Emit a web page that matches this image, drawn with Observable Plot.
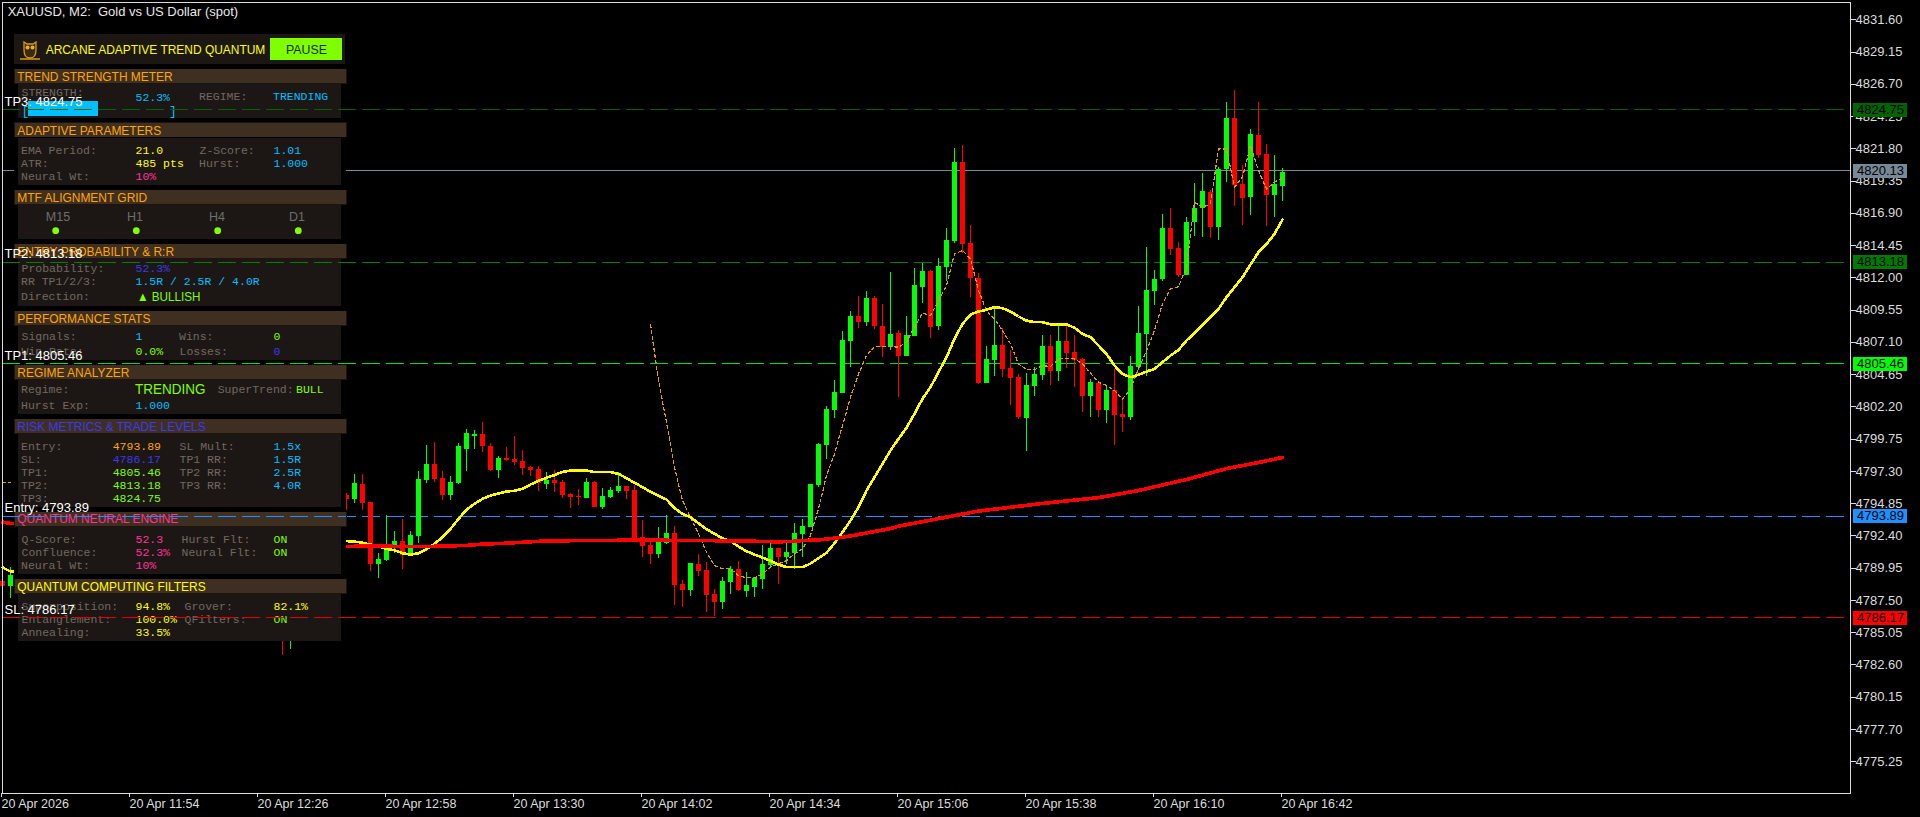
<!DOCTYPE html>
<html>
<head>
<meta charset="utf-8">
<script src="https://cdn.jsdelivr.net/npm/d3@7"></script>
<script src="https://cdn.jsdelivr.net/npm/@observablehq/plot@0.6"></script>
<style>html,body{margin:0;padding:0;background:#000;overflow:hidden}svg{display:block}</style>
</head>
<body>
<div id="chart"></div>
<script>
// ---- candles (bar number = 2-minute bars since 11:22) ----
const barIndex = [0,1,35,36,43].concat(d3.range(44,161));
const opens = [4788.93,4788.55,4787.5,4786.0,4795.46,
4795.16,4796.30,4794.93,4790.22,4790.53,4791.59,4791.97,4790.91,4792.35,4796.60,
4797.82,4796.76,4795.46,4796.38,4798.96,4799.95,4800.10,4799.19,4797.36,4798.27,
4798.20,4798.05,4797.57,4797.44,4796.30,4796.60,4796.45,4795.54,4795.39,4795.24,
4796.45,4794.55,4795.31,4795.77,4796.15,4795.84,4792.27,4791.67,4790.98,4791.82,
4792.58,4788.70,4788.25,4790.22,4789.77,4787.95,4787.34,4788.86,4789.84,4788.17,
4788.47,4789.08,4790.14,4791.43,4790.75,4791.05,4792.50,4793.03,4796.22,4799.26,
4801.92,4803.21,4807.16,4809.06,4808.60,4810.43,4808.30,4806.70,4807.77,4806.02,
4807.54,4811.26,4812.48,4808.30,4812.78,4814.76,4820.75,4814.60,4811.94,4803.97,
4805.72,4806.86,4805.11,4804.43,4801.31,4803.74,4804.58,4806.78,4804.88,4807.16,
4806.33,4805.79,4802.98,4803.97,4801.92,4803.44,4801.61,4801.38,4805.18,4807.69,
4810.95,4811.87,4815.74,4814.22,4812.17,4816.19,4817.26,4818.47,4815.82,4820.22,
4824.09,4819.08,4818.09,4822.80,4821.36,4818.25,4818.93];
const closes = [4788.55,4789.39,4786.0,4787.0,4795.16,
4796.35,4794.86,4790.25,4790.60,4791.54,4791.97,4790.91,4792.43,4796.68,4797.82,
4796.68,4795.46,4796.45,4799.19,4800.17,4800.10,4799.19,4797.36,4798.27,4798.12,
4797.97,4797.52,4797.36,4796.35,4796.60,4796.38,4795.46,4795.31,4795.29,4796.45,
4794.55,4795.39,4795.84,4796.15,4795.77,4792.17,4791.59,4790.98,4791.89,4792.58,
4788.63,4788.25,4790.30,4789.69,4787.87,4787.34,4788.93,4789.84,4788.24,4788.62,
4789.16,4790.22,4791.43,4790.75,4791.13,4792.57,4793.10,4796.29,4799.33,4801.99,
4803.28,4807.23,4809.05,4808.60,4810.43,4808.30,4806.70,4807.69,4806.02,4807.61,
4811.41,4812.48,4808.22,4812.86,4814.83,4820.75,4814.53,4811.94,4803.97,4805.79,
4806.86,4805.03,4804.35,4801.39,4803.82,4804.65,4806.78,4804.88,4807.16,4806.25,
4805.72,4802.98,4804.05,4801.92,4803.44,4801.54,4801.38,4805.26,4807.76,4811.03,
4811.87,4815.74,4814.14,4812.17,4816.19,4817.26,4818.55,4815.82,4820.22,4824.09,
4819.01,4818.02,4822.88,4821.28,4818.25,4819.08,4819.99];
const highs = [4788.93,4790.00,4788.0,4787.5,4795.59,
4797.06,4797.06,4794.93,4791.03,4793.92,4792.73,4793.62,4792.73,4797.29,4799.26,
4799.49,4797.29,4796.91,4799.41,4800.48,4800.40,4801.01,4799.41,4798.43,4799.11,
4799.95,4798.88,4797.67,4797.67,4797.21,4797.36,4796.60,4795.59,4795.92,4796.76,
4796.53,4796.00,4796.07,4797.21,4796.15,4796.22,4793.57,4792.05,4793.03,4793.92,
4793.11,4789.01,4790.30,4790.98,4790.38,4788.33,4789.24,4790.07,4790.45,4789.61,
4789.26,4791.64,4791.89,4791.43,4791.89,4793.31,4793.64,4796.29,4799.41,4802.22,
4804.19,4807.92,4809.43,4810.58,4810.96,4810.58,4809.97,4812.40,4808.00,4809.06,
4812.70,4813.08,4812.55,4813.46,4815.74,4821.82,4822.05,4815.97,4812.30,4806.78,
4809.59,4808.15,4806.47,4804.65,4804.73,4805.19,4807.61,4807.61,4808.30,4808.37,
4807.61,4805.87,4804.28,4804.15,4803.82,4805.03,4802.83,4806.02,4809.82,4814.30,
4812.55,4816.80,4817.26,4814.68,4816.57,4819.16,4819.92,4818.63,4820.35,4825.31,
4826.22,4820.52,4823.26,4825.31,4822.12,4821.28,4820.30];
const lows = [4788.55,4787.64,4783.31,4783.77,4794.33,
4794.83,4794.33,4789.69,4789.19,4790.48,4791.08,4789.84,4790.83,4791.79,4796.38,
4796.45,4795.08,4795.08,4796.30,4797.29,4798.96,4798.73,4797.29,4796.76,4798.05,
4797.74,4796.98,4796.91,4795.77,4795.92,4795.69,4795.21,4794.48,4794.71,4795.24,
4794.55,4794.40,4795.24,4795.59,4795.16,4792.17,4790.76,4790.22,4790.68,4791.74,
4787.11,4786.96,4787.79,4789.31,4786.58,4786.27,4786.81,4787.95,4788.17,4787.71,
4787.71,4788.32,4789.99,4788.70,4790.22,4789.84,4790.75,4793.03,4796.07,4798.19,
4801.31,4803.21,4805.18,4808.15,4808.30,4808.07,4805.94,4806.47,4802.91,4806.02,
4807.54,4810.05,4807.39,4808.00,4811.72,4814.60,4813.84,4810.50,4803.89,4803.97,
4804.50,4804.43,4802.30,4801.24,4798.81,4802.98,4804.20,4803.82,4804.12,4805.11,
4803.67,4801.77,4801.39,4801.39,4800.93,4799.26,4800.25,4801.16,4804.95,4804.50,
4809.89,4811.71,4813.69,4812.02,4812.17,4815.13,4815.06,4814.98,4814.83,4819.23,
4817.41,4815.97,4816.73,4821.08,4815.89,4816.57,4817.79];

// ---- moving averages ----
const maFastBars = [0,1].concat(d3.range(43,161));
const maFast = [4790.00,4789.69,
4792.00,4791.97,4791.87,4791.74,4791.59,4791.41,4791.31,4791.08,4790.98,4791.08,
4791.39,4791.79,4792.30,4792.93,4793.69,4794.38,4794.83,4795.21,4795.46,4795.62,
4795.77,4795.82,4795.97,4796.30,4796.58,4796.81,4797.01,4797.26,4797.36,4797.36,
4797.36,4797.24,4797.24,4797.24,4797.11,4796.78,4796.43,4796.10,4795.74,4795.44,
4795.16,4794.52,4794.07,4793.81,4793.36,4792.90,4792.55,4792.22,4791.99,4791.59,
4791.23,4790.98,4790.75,4790.50,4790.22,4790.02,4790.02,4790.02,4790.29,4790.70,
4791.11,4791.84,4792.67,4793.56,4794.57,4795.84,4796.85,4797.86,4798.88,4799.77,
4800.60,4801.67,4802.81,4803.69,4804.83,4805.97,4807.36,4808.50,4809.21,4809.44,
4809.57,4809.77,4809.69,4809.44,4809.06,4808.75,4808.63,4808.63,4808.47,4808.47,
4808.47,4808.20,4807.74,4807.49,4806.85,4806.22,4805.33,4804.70,4804.45,4804.63,
4804.88,4805.08,4805.59,4806.09,4806.52,4807.23,4807.81,4808.42,4809.00,4809.64,
4810.52,4811.28,4812.04,4813.00,4813.94,4814.57,4815.33,4816.42];
const maSlowBars = [0,1,43,46,50,53,58,60,63,66,68,76,80,84,92,97,99,100,102,105,107,109,111,112,122,130,137,142,148,153,157,160];
const maSlow = [4793.44,4793.34,4791.59,4791.64,4791.59,4791.59,4791.67,4791.77,4791.84,4791.95,4792.02,4792.05,4792.10,4792.05,4792.02,4791.94,4791.99,4792.04,4792.09,4792.29,4792.50,4792.73,4792.95,4793.13,4794.28,4794.86,4795.30,4795.84,4796.68,4797.51,4797.97,4798.35];
const dottedLeftBars = [0,1];
const dottedLeft = [4796.45,4796.47];
const dottedBars = d3.range(81,161);
const dotted = [4808.45,4804.19,4801.03,4797.61,4795.08,4793.81,4792.55,4791.16,4790.14,4789.89,
4789.89,4789.38,4789.21,4789.21,4789.51,4790.02,4790.27,4790.52,4791.03,4791.41,
4792.42,4794.45,4796.98,4798.62,4800.78,4802.93,4804.70,4806.09,4806.78,4806.78,
4806.78,4806.73,4807.11,4808.25,4809.31,4809.13,4810.27,4811.41,4813.82,4814.07,
4813.44,4811.03,4809.51,4808.88,4808.00,4806.98,4805.46,4805.03,4805.01,4805.33,
4805.26,4805.84,4805.84,4805.84,4805.46,4804.75,4804.07,4803.82,4803.44,4802.80,
4803.56,4805.08,4806.47,4807.99,4810.02,4811.16,4811.33,4812.80,4817.74,4817.36,
4817.61,4821.79,4821.79,4818.88,4819.64,4822.04,4820.14,4818.75,4819.26,4819.59];

// ---- horizontal levels ----
const levelNames = ["TP3","TP2","TP1","Entry","SL"];
const levelPrices = [4824.75,4813.18,4805.46,4793.89,4786.17];
const levelLines = ["#006400","#008000","#00e000","#1e90ff","#e00000"];
const levelBoxes = ["#006400","#007a00","#00ff00","#1e90ff","#ff0000"];
const lastPrice = 4820.13;
const lastColor = "#778899";

// ---- axes ----
const priceTicks = [4831.60,4829.15,4826.70,4824.25,4821.80,4819.35,4816.90,4814.45,4812.00,4809.55,4807.10,4804.65,4802.20,4799.75,4797.30,4794.85,4792.40,4789.95,4787.50,4785.05,4782.60,4780.15,4777.70,4775.25];
const timeTickBars = [0,16,32,48,64,80,96,112,128,144,160];
const timeTickLabels = ["20 Apr 2026","20 Apr 11:54","20 Apr 12:26","20 Apr 12:58","20 Apr 13:30","20 Apr 14:02","20 Apr 14:34","20 Apr 15:06","20 Apr 15:38","20 Apr 16:10","20 Apr 16:42"];

// ---- panel content ----
const SANS = "'Liberation Sans', Arial, sans-serif";
const MONO = "'Liberation Mono', monospace";
const GREY="#726860", BLUE="#00bfff", YEL="#ffff00", ORG="#ffa500", PINK="#ff3399", GRN="#7fff00", IND="#3a3aee";
const panelHeaders = [
 ["TREND STRENGTH METER",69,81,ORG],["ADAPTIVE PARAMETERS",122.5,135,ORG],["MTF ALIGNMENT GRID",190,201.7,ORG],
 ["ENTRY PROBABILITY & R:R",244,255.7,ORG],["PERFORMANCE STATS",311,322.7,ORG],["REGIME ANALYZER",365,376.7,ORG],
 ["RISK METRICS & TRADE LEVELS",419,431,IND],["QUANTUM NEURAL ENGINE",512,523.3,PINK],["QUANTUM COMPUTING FILTERS",579,590.7,YEL]];
const panelBodies = [[84,118],[138,185],[205,239],[259,306],[326,360],[380,414],[434,507],[527,574],[594,641]];
const panelMono = [
 [21.5,96,"STRENGTH:",GREY],[135.5,101,"52.3%",BLUE],[199,100,"REGIME:",GREY],[273,100,"TRENDING",BLUE],
 [21,154.3,"EMA Period:",GREY],[135.5,154.3,"21.0",YEL],[199.5,154.3,"Z-Score:",GREY],[273.5,154.3,"1.01",BLUE],
 [21,167,"ATR:",GREY],[135.5,167,"485 pts",YEL],[199,167,"Hurst:",GREY],[273.5,167,"1.000",BLUE],
 [21,180,"Neural Wt:",GREY],[135.5,180,"10%",PINK],
 [21.5,271.7,"Probability:",GREY],[135.5,271.7,"52.3%",IND],
 [21,285,"RR TP1/2/3:",GREY],[135.5,285,"1.5R / 2.5R / 4.0R",BLUE],[21,300,"Direction:",GREY],
 [21.5,340,"Signals:",GREY],[135.5,340,"1",BLUE],[179,340,"Wins:",GREY],[273.5,340,"0",GRN],
 [21.5,355,"Win Rate:",GREY],[135.5,355,"0.0%",GRN],[179.5,355,"Losses:",GREY],[273.5,355,"0",IND],
 [21,393.3,"Regime:",GREY],[217.7,393.3,"SuperTrend:",GREY],[296,393.3,"BULL",GRN],
 [21,409.3,"Hurst Exp:",GREY],[135.5,409.3,"1.000",BLUE],
 [21,450,"Entry:",GREY],[112.7,450,"4793.89",ORG],[179.5,450,"SL Mult:",GREY],[273.5,450,"1.5x",BLUE],
 [21,463,"SL:",GREY],[112.7,463,"4786.17",IND],[179.5,463,"TP1 RR:",GREY],[273.5,463,"1.5R",BLUE],
 [21,476,"TP1:",GREY],[112.7,476,"4805.46",GRN],[179.5,476,"TP2 RR:",GREY],[273.5,476,"2.5R",BLUE],
 [21,489,"TP2:",GREY],[112.7,489,"4813.18",GRN],[179.5,489,"TP3 RR:",GREY],[273.5,489,"4.0R",BLUE],
 [21,502,"TP3:",GREY],[112.7,502,"4824.75",GRN],
 [21.5,543.3,"Q-Score:",GREY],[135.5,543.3,"52.3",PINK],[181.5,543.3,"Hurst Flt:",GREY],[273.5,543.3,"ON",GRN],
 [21.5,556,"Confluence:",GREY],[135.5,556,"52.3%",PINK],[181.5,556,"Neural Flt:",GREY],[273.5,556,"ON",GRN],
 [21,569.3,"Neural Wt:",GREY],[135.5,569.3,"10%",PINK],
 [21.5,610,"Superposition:",GREY],[135.5,610,"94.8%",YEL],[184.5,610,"Grover:",GREY],[273.5,610,"82.1%",YEL],
 [21.5,623,"Entanglement:",GREY],[135.5,623,"100.0%",YEL],[184.5,623,"QFilters:",GREY],[273.5,623,"ON",GRN],
 [21.5,636,"Annealing:",GREY],[135.5,636,"33.5%",YEL]];
const mtfLabels = ["M15","H1","H4","D1"];
const mtfLabelX = [58,135,217,297];
const mtfDotX = [55.7,136.3,217.7,298.3];

const bars = barIndex.map((k,i)=>({k,open:opens[i],high:highs[i],low:lows[i],close:closes[i]}));
const candleColor = d => d.close>=d.open ? "#00ff00" : "#ff0000";
const levels = levelPrices.map((p,i)=>({name:levelNames[i],price:p,line:levelLines[i],box:levelBoxes[i]}));
const boxes = levels.map(d=>({price:d.price,box:d.box})).concat([{price:lastPrice,box:lastColor}]);
const crisp = {shapeRendering:"crispEdges"};

function panel(){
  const g = d3.create("svg:g").attr("text-anchor","start");
  const rect=(x,y,w,h,fill)=>g.append("rect").attr("x",x).attr("y",y).attr("width",w).attr("height",h).attr("fill",fill).attr("shape-rendering","crispEdges");
  const text=(x,y,s,fill,font,size)=>g.append("text").attr("x",x).attr("y",y).attr("fill",fill).attr("font-family",font).attr("font-size",size).style("white-space","pre").text(s);
  // condensed caption, keeps the tall narrow look of the reference's titles
  const narrow=(x,y,s,fill,size,sx)=>g.append("text").attr("transform",`translate(${x},${y}) scale(${sx},1)`).attr("fill",fill).attr("font-family",SANS).attr("font-size",size).text(s);
  rect(14,33,332,608,"#000");
  rect(14,34,331,30,"#1c1713");
  // owl badge
  g.append("path").attr("d","M24 42 L27 44 H33 L36 42 L36 50 Q36 58 30 58 Q24 58 24 50 Z").attr("fill","#3a2a10").attr("stroke","#d89a10").attr("stroke-width",1.3);
  g.append("path").attr("d","M20 59 H40").attr("stroke","#d89a10").attr("stroke-width",1.5);
  g.append("circle").attr("cx",27.5).attr("cy",47.5).attr("r",2).attr("fill","#f0b020");
  g.append("circle").attr("cx",32.5).attr("cy",47.5).attr("r",2).attr("fill","#f0b020");
  narrow(45.7,54,"ARCANE ADAPTIVE TREND QUANTUM",YEL,13,0.92);
  rect(270,38,72,22,"#7fff00");
  narrow(286,54,"PAUSE","#1a2a00",13,0.95);
  panelBodies.forEach(([a,b])=>rect(18,a,323,b-a,"#1c1715"));
  panelHeaders.forEach(([s,top,base,c])=>{
    rect(13.5,top-0.5,333,15,"#1d150d");
    rect(15,top,331,14,"#3f2f20");
    narrow(17.3,base,s,c,13,0.92);
  });
  // strength meter
  text(21.5,115,"[",BLUE,MONO,13);
  text(169,115,"]",BLUE,MONO,13);
  rect(28,101,70,15,"#00bfff");
  panelMono.forEach(([x,y,s,c])=>text(x,y,s,c,MONO,11.5));
  // MTF grid
  mtfLabels.forEach((s,i)=>{
    text(mtfLabelX[i],221,s,"#6e6e6e",SANS,12.5).attr("text-anchor","middle");
    g.append("circle").attr("cx",mtfDotX[i]).attr("cy",230.7).attr("r",3.4).attr("fill","#7fff00");
  });
  narrow(137,300.7,"\u25B2 BULLISH",GRN,13,0.9);
  narrow(135,394,"TRENDING",GRN,15.5,0.87);
  text(7.7,16,"XAUUSD, M2:  Gold vs US Dollar (spot)","#e8e8e8",SANS,13);
  return g.node();
}

const fig = Plot.plot({
  width:1920, height:817,
  marginLeft:2, marginRight:70, marginTop:2, marginBottom:24,
  style:{background:"#000", color:"#dcdcdc", fontFamily:SANS, overflow:"visible"},
  x:{domain:[0,231]},
  y:{domain:[4772.83,4832.91]},
  color:{type:"identity"},
  marks:[
    Plot.ruleY([lastPrice],{stroke:lastColor,...crisp}),
    Plot.ruleY(levels,{y:"price",x1:0,x2:231,stroke:"line",strokeDasharray:"18,6",...crisp}),
    Plot.ruleX(bars,{x:"k",y1:"low",y2:"high",stroke:candleColor,...crisp}),
    Plot.ruleX(bars,{x:"k",y1:"open",y2:"close",stroke:candleColor,strokeWidth:5,...crisp}),
    Plot.line(dottedLeftBars,{x:d=>d,y:(d,i)=>dottedLeft[i],stroke:"#e0a000",strokeWidth:1,strokeDasharray:"3,3",...crisp}),
    Plot.line(dottedBars,{x:d=>d,y:(d,i)=>dotted[i],stroke:"#e0a000",strokeWidth:1.2,strokeDasharray:"3,3",...crisp}),
    Plot.line(maFastBars,{x:d=>d,y:(d,i)=>maFast[i],stroke:"#ffff00",strokeWidth:2.6,...crisp}),
    Plot.line(maSlowBars,{x:d=>d,y:(d,i)=>maSlow[i],stroke:"#ff0000",strokeWidth:3.6,...crisp}),
    panel,
    Plot.ruleY(levels,{y:"price",x1:0,x2:43,stroke:"line",strokeDasharray:"18,6",...crisp}),
    Plot.text(levels,{x:0,y:"price",dx:2,dy:-8,text:d=>`${d.name}: ${d.price.toFixed(2)}`,textAnchor:"start",fill:"#ffffff",fontSize:13}),
    Plot.frame({stroke:"#dcdcdc",...crisp}),
    Plot.axisY({anchor:"right",ticks:priceTicks,tickFormat:d=>d.toFixed(2),tickSize:5,tickPadding:0,fontSize:13,label:null,stroke:"#dcdcdc",fill:"#dcdcdc",...crisp}),
    Plot.axisX(timeTickBars,{anchor:"bottom",tickFormat:d=>timeTickLabels[timeTickBars.indexOf(d)],tickSize:4,tickPadding:2,fontSize:12.5,textAnchor:"start",dx:-1,label:null,stroke:"#dcdcdc",fill:"#dcdcdc",...crisp}),
    Plot.ruleY(boxes,{y:"price",x1:231.375,x2:238.125,stroke:"box",strokeWidth:14,...crisp}),
    Plot.text(boxes,{x:234.75,y:"price",text:d=>d.price.toFixed(2),fill:"#000",fontSize:13})
  ]
});
document.getElementById("chart").append(fig);
</script>
</body>
</html>
